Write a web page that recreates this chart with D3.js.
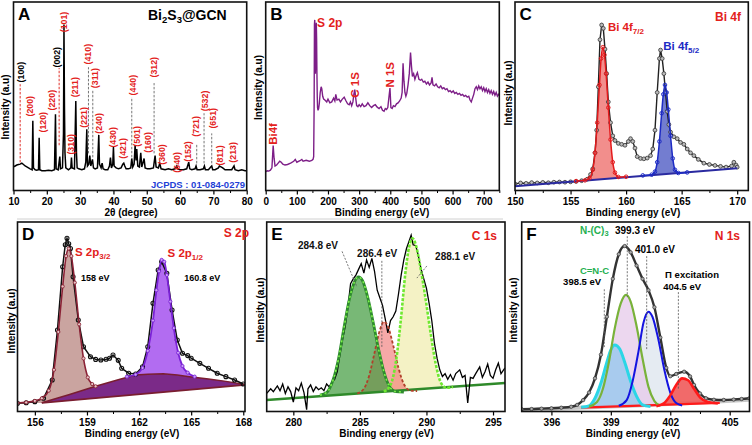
<!DOCTYPE html>
<html><head><meta charset="utf-8">
<script src="https://cdn.jsdelivr.net/npm/d3@7"></script>
<style>body{margin:0;background:#fff}</style>
</head><body>
<script>
// ---------------- DATA ----------------
// Panel A : XRD pattern [2theta, intensity]
const xrdData = [[10,12.5],[10.5,13],[11,13.5],[11.5,13.8],[12,14],[12.5,14.5],[13,13.8],[13.5,13],[14,12.5],[14.5,12],[15,11.5],[15.6,11],[15.8,37],[16.0,12],[16.5,11],[17,10.8],[17.5,11],[17.7,28],[17.9,11],[18.5,10.5],[19.5,10.5],[20.5,10.7],[21.5,10.5],[22.3,11],[22.6,40.5],[22.8,11.5],[23.4,11],[23.9,18],[24.1,11.5],[24.7,12],[25.0,30],[25.15,88],[25.3,44],[25.45,20],[25.7,12],[26.5,11],[27.2,12],[27.4,17.5],[27.6,12],[28.3,11.5],[28.7,47.5],[28.9,20],[29.1,12],[29.6,11.5],[30.5,11],[31.3,11.5],[31.7,15],[32.0,32.5],[32.2,13],[32.6,14],[32.9,18.5],[33.2,13],[33.7,16.5],[34.0,12],[34.5,11.5],[35.2,12],[35.6,29.5],[35.8,14],[36.3,12],[36.6,14.5],[36.9,11.5],[37.5,11],[38.3,11],[38.8,13],[39.1,17.5],[39.4,12],[39.8,14],[40.0,23],[40.2,13],[40.8,12],[41.5,11.5],[42.3,12],[42.8,14],[43.1,14.5],[43.4,13],[43.8,11.5],[44.5,11.5],[45.2,12],[45.5,17],[45.8,12.5],[46.2,14],[46.5,24],[46.8,16],[47.0,22],[47.3,13],[47.8,12.5],[48.2,20],[48.5,12.5],[48.9,15],[49.2,17],[49.5,12],[50.2,11.5],[51,11.5],[52,12],[52.5,18.5],[52.8,12.5],[53.5,12],[53.9,14.5],[54.3,11.5],[55.5,11],[56.5,11.5],[57.5,11],[58.5,11.5],[59,13],[59.3,11.5],[60,11],[61,11],[62,11.5],[62.6,15],[62.9,11.5],[63.5,11],[64.5,11.5],[64.8,13],[65.1,11],[66,11],[67,11.5],[67.3,13],[67.6,11],[68.5,11],[69.2,12.5],[69.5,13],[69.8,11],[70.5,11],[71.5,12],[71.8,13],[72.3,12.5],[72.8,12],[73.5,11],[74.5,11],[75.5,11],[76.2,13],[76.5,11],[77.5,10.5],[78.5,11],[79.5,10.5],[80,10.5]];
const hklNames = ['(100)','(200)','(120)','(220)','(002)','(101)','(310)','(211)','(221)','(410)','(311)','(240)','(430)','(421)','(440)','(501)','(160)','(312)','(360)','(640)','(152)','(721)','(532)','(651)','(811)','(213)'];
const hklTheta = [12.2,15.0,18.8,21.5,23.0,25.2,27.2,28.5,31.2,32.5,34.5,35.8,40.0,42.8,45.8,47.0,50.3,52.2,54.5,59.0,62.5,64.7,67.6,70.0,71.9,76.0];
const hklLevel = [62.8,44.7,36.2,47.9,70.7,89.4,24.5,54.8,38.8,72.3,59.6,35.6,28.2,22.3,55.9,28.7,25.5,65.4,19.1,14.9,20.7,34.0,47.5,38.3,18.6,20.2];
const hklGCN = ['(100)','(002)'];
const dropTheta = [12.0,23.7,32.5,33.8,45.5,52.2,65.0,67.2,69.5];
const dropLow   = [14.9,24,19.7,17.6,17.6,19.7,14.4,14.4,14.4];
const dropHigh  = [56.4,65,65.4,53,49.5,57,25,41,30.3];

// Panel B : XPS survey [eV, intensity]
const surveyData = [[0,10],[5,10.5],[10,10.3],[15,10.8],[20,12],[24,23.8],[27,17],[30,13],[35,13.5],[40,14.5],[45,15.5],[50,15],[55,14],[62,13.5],[70,13.8],[80,14.5],[90,15.5],[95,16.5],[100,15],[110,15.8],[116,16.5],[120,15.5],[130,16],[140,15.5],[148,16],[152,16.5],[154,18],[155.5,45],[156.5,88],[157.5,90.5],[158.5,72],[159.5,62],[160.5,68],[161.5,86],[162.5,89],[163.5,80],[164.5,62],[165.5,50],[166.5,44],[168,42.5],[170,43.5],[172,46],[175,52],[178,55],[180,54],[183,50],[186,48.5],[190,48],[196,47],[200,48.5],[206,46.5],[212,47],[218,49],[222,47.5],[225,51],[229,48],[235,48.5],[240,47],[246,48.5],[252,49.5],[258,47.5],[263,46],[268,45.5],[272,47],[276,45],[280,47],[283,51],[286,53.5],[289,49],[292,45],[296,44.5],[300,45.5],[305,44.5],[310,46],[316,44.5],[322,45],[328,46.5],[334,45],[340,44],[346,45],[352,45.5],[358,44.2],[364,43.5],[370,44.5],[375,42.5],[380,42],[384,43.5],[388,43],[392,44],[396,50],[399,54.3],[402,44],[406,43.5],[410,45],[415,44.5],[420,46],[425,46.5],[430,47.5],[435,49],[438,52],[441,67.5],[444,58],[447,52],[450,50],[453,51.5],[457,56],[461,62],[465,73.2],[468,66],[471,60.5],[475,62],[479,59],[483,61],[487,62.5],[492,59],[497,58.5],[501,59],[506,57.5],[511,58],[516,56.5],[521,57.5],[526,56],[531,57],[534,60],[537,56],[542,55.5],[547,56.5],[552,55],[557,54.5],[562,55.5],[567,54],[572,54.5],[577,53.5],[582,54],[587,52.5],[592,53],[597,52],[602,52.8],[607,51.5],[612,52],[617,51],[622,51.5],[627,50.5],[632,51],[637,50],[642,50.5],[647,49.5],[652,50],[656,48],[660,47],[664,49],[668,51],[672,54],[676,55],[680,53.5],[684,55.5],[688,54],[692,55],[696,53],[700,54.5],[704,52.5],[708,54],[712,52],[716,53.5],[720,51.5],[724,53],[728,51],[732,52.5],[736,50.5],[740,52],[744,50],[748,51],[750,50.5]];
const surveyLabels = ['Bi4f','S 2p','C 1S','N 1S'];
const surveyLabelX = [24,165,287,399];
const surveyLabelY = [30,86.8,56,61.4];

// Panel C : Bi 4f
const bi4fData = [[150,3.5],[150.5,4],[151,3.8],[151.5,4.2],[152,4.0],[152.5,4.3],[153,4.1],[153.5,4.4],[154,4.5],[154.5,4.4],[155,4.6],[155.5,4.8],[156,5.2],[156.5,6],[156.8,8.5],[157.0,11.5],[157.2,20],[157.35,32],[157.5,55],[157.65,80],[157.8,87.8],[157.95,86],[158.1,75],[158.25,62],[158.4,47],[158.6,36],[158.8,29],[159.0,26.5],[159.3,25],[159.6,24.5],[159.9,24],[160.2,26],[160.4,27.5],[160.6,26],[160.8,22.5],[161.0,18],[161.3,17],[161.6,16.8],[161.9,17.2],[162.2,18.5],[162.4,22],[162.6,32],[162.8,52],[163.0,70],[163.1,74.5],[163.25,70],[163.4,62],[163.55,52],[163.7,42],[163.85,35],[164.0,31],[164.3,28.5],[164.6,27.5],[164.9,25.5],[165.2,24.5],[165.5,22],[165.8,20],[166.1,18.5],[166.5,16.5],[167,14.5],[167.5,13.8],[168,13.3],[168.5,12.8],[169,12.4],[169.5,13],[169.7,15],[169.9,13.5],[170,12.4]];
const bi4fBase = [[150,2.3],[170,11.8]];
const bi4f72Fit = [[155.5,5.0],[156.3,5.4],[156.7,6.5],[157.0,11],[157.2,20],[157.4,36],[157.6,56],[157.75,70],[157.9,76],[158.05,72],[158.2,62],[158.4,44],[158.6,27],[158.8,15],[159.0,9.5],[159.3,7.2],[160,7.3]];
const bi4f52Fit = [[161.5,8.0],[162.3,8.4],[162.6,10],[162.8,15],[163.0,26],[163.2,41],[163.35,51],[163.5,56],[163.65,52],[163.8,43],[164.0,29],[164.2,17],[164.4,11],[164.7,9.3],[165.5,9.6]];

// Panel D : S 2p
const s2pData = [[155,4.3],[155.5,4.6],[156,5.2],[156.5,7.0],[157,16.6],[157.3,43],[157.6,76.4],[157.75,88],[157.85,91.4],[157.95,88.5],[158.05,86],[158.2,71.1],[158.5,48.3],[158.8,34.2],[159.2,28.9],[159.5,27.5],[159.8,27.2],[160.1,27.6],[160.3,28.1],[160.5,29.8],[160.8,27],[161.0,22.8],[161.4,20.2],[161.8,19.8],[162.2,23.6],[162.5,34.2],[162.8,57.1],[163.1,74.7],[163.3,79],[163.6,72.9],[163.9,53.6],[164.2,37.7],[164.5,30.7],[164.8,29.5],[165,28.1],[165.5,25.4],[166,22.8],[166.5,20.2],[167,18.4],[167.5,16.6],[168,14.5]];
const s2pBase = [[156.4,4.5],[168.1,14.0]];
const s2pBg = [[156.4,4.6],[158,9],[159.5,13.3],[160.8,16.8],[161.8,19.3],[162.5,19.7],[163.4,19.9],[164.2,19.2],[164.9,18.4],[166,17.2],[167,15.9],[168.1,14.2]];
const s2p32Fit = [[155,4.5],[155.5,4.8],[156,5.6],[156.4,7],[156.8,11],[157.1,22],[157.35,42],[157.6,66],[157.8,82],[157.95,86],[158.1,82],[158.3,68],[158.55,46],[158.8,28],[159.05,18],[159.3,14.5],[159.5,13.3]];
const s2p12Fit = [[161.3,18.4],[161.8,19.5],[162.2,23],[162.5,32],[162.8,48],[163.0,64],[163.15,74],[163.3,80],[163.45,79],[163.6,72],[163.8,58],[164.0,44],[164.25,31],[164.5,24],[164.8,20.5],[165.2,18.4]];

// Panel E : C 1s
const c1sData = [[278,9.6],[278.3,12],[278.5,10.5],[278.8,13.5],[279,11],[279.2,14.5],[279.4,9.5],[279.6,13],[279.8,10.5],[280,5],[280.2,12.5],[280.4,11],[280.6,15],[280.8,10],[281,1],[281.1,12],[281.3,14],[281.5,10.5],[281.7,13],[281.9,11.5],[282.1,12.5],[282.3,11],[282.5,14.5],[282.7,13],[282.9,15.5],[283.1,17],[283.3,21],[283.5,30],[283.7,38],[283.9,45],[284.1,55],[284.3,67.5],[284.5,70],[284.7,72],[284.9,75],[285.1,78],[285.3,73],[285.5,80],[285.7,76],[285.9,80.8],[286.1,74],[286.3,64],[286.5,60],[286.7,56],[286.9,49],[287.1,41.5],[287.3,48],[287.5,50],[287.7,53],[287.9,62],[288.1,72],[288.3,80],[288.5,86],[288.7,90],[288.85,93],[289,88],[289.2,87.5],[289.4,82],[289.6,75],[289.8,70],[290,65],[290.2,57],[290.4,48],[290.6,36],[290.8,28],[291,22],[291.2,18.5],[291.4,20],[291.6,17],[291.8,19.5],[292,16.5],[292.2,20],[292.5,22],[292.7,18],[292.9,19],[293.1,4.5],[293.3,18],[293.5,17.5],[293.7,20],[294,23.5],[294.2,18],[294.4,21],[294.6,25],[294.8,19],[295,17.5],[295.2,22],[295.4,25.5],[295.6,20],[295.9,23]];
const c1sBase = [[278,6.1],[295.9,15.0]];
const c1sPeakCC = [[282.0,8.7],[282.5,10],[283.0,17],[283.4,28],[283.8,44],[284.2,59],[284.6,68.5],[284.9,71],[285.2,69],[285.6,60],[286.0,47],[286.4,33],[286.8,21],[287.2,13.5],[287.7,10.5],[288.3,10.3]];
const c1sPeakCN = [[284.8,9.5],[285.3,12],[285.7,19],[286.1,31],[286.5,43],[286.8,47.4],[287.1,45],[287.5,35],[287.9,23],[288.3,14.5],[288.8,11],[289.3,10.8]];
const c1sPeakNCN = [[286.8,10.5],[287.3,14],[287.7,26],[288.1,50],[288.4,72],[288.7,87],[288.95,91.4],[289.2,88],[289.5,78],[289.9,61],[290.3,42],[290.7,25],[291.1,15],[291.5,12.5],[292,13]];
const c1sLabels = ['284.8 eV','286.4 eV','288.1 eV'];
const c1sLabelX = [280.35,284.79,290.65];
const c1sLabelY = [85.8,81.5,79.9];
const c1sLeaders = [[283.66,84.5,284.78,65.7],[286.65,79.5,286.65,34],[290.03,76.8,289.28,70.4]];

// Panel F : N 1s
const n1sData = [[394.5,1.2],[395,1.3],[395.5,1.5],[396,1.7],[396.5,2],[397,2.5],[397.3,3.5],[397.6,6],[397.9,10],[398.2,17.5],[398.5,30],[398.8,50],[399.1,70],[399.4,83],[399.7,87.3],[400.0,84],[400.3,77],[400.6,70],[400.9,64],[401.2,55],[401.5,39],[401.8,23],[402.0,18.6],[402.3,19.8],[402.7,21],[403.0,18.5],[403.2,14],[403.5,9.5],[403.8,7],[404.2,6.2],[404.7,6.1],[405.2,6.3],[405.6,6.6],[406,7]];
const n1sGray = [[394.5,0.6],[397,1.8],[400,3],[403,4.5],[406,6.2]];
const n1sBase = [[397.5,2.0],[404.5,4.6]];
const n1sCNC = [[397.5,2.2],[397.9,3],[398.2,7],[398.5,15],[398.8,26],[399.0,32.5],[399.2,35.1],[399.45,33],[399.7,26],[400.0,16],[400.3,8],[400.6,3.5],[401,2.6]];
const n1sNC3 = [[397.9,2.6],[398.3,5],[398.6,12],[398.9,26],[399.2,44],[399.5,57],[399.77,61.5],[400.0,58],[400.3,45],[400.6,28],[400.9,13],[401.2,5.5],[401.5,3]];
const n1sNH = [[399.4,3],[399.8,6],[400.1,16],[400.4,32],[400.65,47],[400.9,52.7],[401.1,50],[401.4,38],[401.7,22],[402.0,10],[402.3,4.5],[402.6,3.2]];
const n1sPi = [[401.3,2.8],[401.7,4.5],[402.0,8.5],[402.3,14],[402.6,17.5],[402.9,16.5],[403.2,12],[403.5,7.5],[403.9,5],[404.4,4.3]];
const n1sLeaders = [[398.67,64.5,398.67,34],[399.83,92.5,399.83,60.4],[400.81,82,400.81,32.5],[402.41,63,402.41,11.3]];

// ---------------- DRAWING ----------------
const FONT = '"Liberation Sans", Arial, Helvetica, sans-serif';
const svg = d3.select('body').append('svg').attr('width',752).attr('height',445)
  .attr('font-family',FONT).attr('font-weight','bold');
const defs = svg.append('defs');

function rich(t, parts, subSize, shift) {
  let down = false;
  parts.forEach(p => {
    const sp = t.append('tspan');
    if (typeof p === 'string') { sp.text(p); if (down) { sp.attr('dy', -shift); down = false; } }
    else { sp.text(p.sub).attr('font-size', subSize).attr('dy', shift); down = true; }
  });
  return t;
}

function panel(c) {
  const x = d3.scaleLinear().domain(c.domain).range([c.l, c.r]);
  const y = d3.scaleLinear().domain([0,100]).range([c.b, c.t]);
  const g = svg.append('g');
  defs.append('clipPath').attr('id','cp'+c.id).append('rect')
    .attr('x',c.l).attr('y',c.t).attr('width',c.r-c.l).attr('height',c.b-c.t);
  const plot = g.append('g').attr('clip-path',`url(#cp${c.id})`);
  const ax = g.append('g').attr('transform',`translate(0,${c.b})`)
    .call(d3.axisBottom(x).tickValues(c.ticks).tickSize(4).tickPadding(3).tickFormat(d3.format('d')));
  ax.select('.domain').remove();
  ax.selectAll('text').attr('font-size',10).attr('font-weight','bold').attr('font-family',FONT).attr('fill','#000');
  ax.selectAll('line').attr('stroke','#000').attr('stroke-width',1.2);
  const mx = g.append('g').attr('transform',`translate(0,${c.b})`)
    .call(d3.axisBottom(x).tickValues(c.minor).tickSize(2.5).tickFormat(''));
  mx.select('.domain').remove();
  mx.selectAll('line').attr('stroke','#000').attr('stroke-width',1);
  g.append('rect').attr('x',c.l).attr('y',c.t).attr('width',c.r-c.l).attr('height',c.b-c.t)
    .attr('fill','none').attr('stroke','#111').attr('stroke-width',1.6);
  g.append('text').attr('x',c.tx).attr('y',c.b+25.6).attr('text-anchor','middle').attr('font-size',10).text(c.xTitle);
  g.append('text').attr('transform',`translate(${c.ytx},${c.yty}) rotate(-90)`).attr('text-anchor','middle')
    .attr('dominant-baseline','central').attr('font-size',10).text('Intensity (a.u)');
  g.append('text').attr('x',c.l+4.5).attr('y',c.t+17.5).attr('font-size',17).text(c.id);
  return {g, plot, x, y};
}

const line = (x,y,curve) => d3.line().x(d=>x(d[0])).y(d=>y(d[1])).curve(curve||d3.curveLinear);
function dots(sel, data, x, y, r, fill, stroke, sw) {
  sel.append('g').selectAll('circle').data(data).join('circle')
    .attr('cx',d=>x(d[0])).attr('cy',d=>y(d[1])).attr('r',r)
    .attr('fill',fill).attr('stroke',stroke).attr('stroke-width',sw||0.8);
}

// ===== Panel A =====
{
  const P = panel({id:'A',domain:[10,80],l:13.5,r:246.7,t:2,b:190.5,ticks:d3.range(10,81,10),minor:d3.range(15,80,10),
    xTitle:'2θ (degree)',tx:131,ytx:5.5,yty:107});
  const {plot,x,y,g} = P;
  plot.append('path').datum(xrdData).attr('d',line(x,y)).attr('fill','none').attr('stroke','#000').attr('stroke-width',1.5);
  dropTheta.forEach((t,i)=>{
    plot.append('line').attr('x1',x(t)).attr('x2',x(t)).attr('y1',y(dropLow[i])).attr('y2',y(dropHigh[i]))
      .attr('stroke', i<2 ? '#e0302a' : '#777').attr('stroke-width',1).attr('stroke-dasharray','2.5,1.5');
  });
  hklNames.forEach((n,i)=>{
    g.append('text').attr('transform',`translate(${x(hklTheta[i])},${y(hklLevel[i])}) rotate(-90)`)
      .attr('text-anchor','middle').attr('dominant-baseline','central').attr('font-size',8.8)
      .attr('fill', hklGCN.includes(n) ? '#000' : '#e3211c').text(n);
  });
  rich(g.append('text').attr('x',148).attr('y',20).attr('font-size',14),
    ['Bi',{sub:'2'},'S',{sub:'3'},'@GCN'],9.5,3);
  g.append('text').attr('x',245).attr('y',187.5).attr('text-anchor','end').attr('font-size',9.5)
    .attr('fill','#1f3fd6').text('JCPDS : 01-084-0279');
}
// separator line
svg.append('line').attr('x1',17).attr('x2',503).attr('y1',219).attr('y2',219).attr('stroke','#d0d0d0').attr('stroke-width',1);

// ===== Panel B =====
{
  const {plot,x,y,g} = panel({id:'B',domain:[0,750],l:265.7,r:499.3,t:2,b:190.5,ticks:d3.range(0,701,100),minor:d3.range(50,751,100),
    xTitle:'Binding energy (eV)',tx:382,ytx:258.5,yty:87.5});
  plot.append('path').datum(surveyData).attr('d',line(x,y)).attr('fill','none').attr('stroke','#7d1e87').attr('stroke-width',1.4);
  surveyLabels.forEach((s,i)=>{
    if (s==='S 2p') g.append('text').attr('x',x(surveyLabelX[i])).attr('y',y(surveyLabelY[i])).attr('font-size',12).attr('fill','#e3211c').text(s);
    else g.append('text').attr('transform',`translate(${x(surveyLabelX[i])},${y(surveyLabelY[i])}) rotate(-90)`)
      .attr('text-anchor','middle').attr('dominant-baseline','central').attr('font-size',11.5).attr('fill','#e3211c').text(s);
  });
}

// ===== Panel C =====
{
  const {plot,x,y,g} = panel({id:'C',domain:[150,171],l:515,r:748.3,t:2,b:190.5,ticks:[150,155,160,165,170],minor:[152.5,157.5,162.5,167.5],
    xTitle:'Binding energy (eV)',tx:633,ytx:508,yty:93});
  const bs = d3.scaleLinear().domain(bi4fBase.map(d=>d[0])).range(bi4fBase.map(d=>d[1]));
  const ar = d3.area().x(d=>x(d[0])).y1(d=>y(d[1])).y0(d=>y(bs(d[0]))).curve(d3.curveMonotoneX);
  plot.append('path').datum(bi4f72Fit).attr('d',ar).attr('fill','#f07a78').attr('opacity',0.85);
  plot.append('path').datum(bi4f52Fit).attr('d',ar).attr('fill','#5a66c8').attr('opacity',0.85);
  plot.append('path').datum(bi4fData).attr('d',line(x,y)).attr('fill','none').attr('stroke','#222').attr('stroke-width',1.4);
  dots(plot,bi4fData,x,y,1.9,'#bbb','#333',0.8);
  plot.append('path').datum(bi4fBase).attr('d',line(x,y)).attr('stroke','#2a2aa0').attr('stroke-width',2);
  plot.append('path').datum(bi4f72Fit).attr('d',line(x,y,d3.curveMonotoneX)).attr('fill','none').attr('stroke','#e41a1c').attr('stroke-width',1.5);
  dots(plot,bi4f72Fit,x,y,1.8,'none','#e41a1c',1);
  plot.append('path').datum(bi4f52Fit).attr('d',line(x,y,d3.curveMonotoneX)).attr('fill','none').attr('stroke','#1d2bc4').attr('stroke-width',1.5);
  dots(plot,bi4f52Fit,x,y,1.8,'none','#1d2bc4',1);
  rich(g.append('text').attr('x',x(158.36)).attr('y',y(84.6)).attr('font-size',11.5).attr('fill','#e3211c'),['Bi 4f',{sub:'7/2'}],8,3);
  rich(g.append('text').attr('x',x(163.34)).attr('y',y(74.5)).attr('font-size',11.5).attr('fill','#1d2bc4'),['Bi 4f',{sub:'5/2'}],8,3);
  g.append('text').attr('x',741).attr('y',21).attr('text-anchor','end').attr('font-size',12).attr('fill','#e3211c').text('Bi 4f');
}

// ===== Panel D =====
{
  const {plot,x,y,g} = panel({id:'D',domain:[155,168.1],l:17.5,r:245,t:222,b:411.5,ticks:[156,159,162,165,168],minor:[157.5,160.5,163.5,166.5],
    xTitle:'Binding energy (eV)',tx:132,ytx:11.5,yty:321});
  const bs = d3.scaleLinear().domain(s2pBase.map(d=>d[0])).range(s2pBase.map(d=>d[1])).clamp(true);
  const bg = d3.scaleLinear().domain(s2pBg.map(d=>d[0])).range(s2pBg.map(d=>d[1])).clamp(true);
  plot.append('path').datum(s2p32Fit).attr('d',d3.area().x(d=>x(d[0])).y1(d=>y(d[1])).y0(d=>y(bs(d[0]))).curve(d3.curveMonotoneX))
    .attr('fill','#c49a96').attr('opacity',0.9);
  plot.append('path').datum(s2pBg).attr('d',d3.area().x(d=>x(d[0])).y1(d=>y(d[1])).y0(d=>y(bs(d[0]))))
    .attr('fill','#7b2a88');
  plot.append('path').datum(s2p12Fit).attr('d',d3.area().x(d=>x(d[0])).y1(d=>y(d[1])).y0(d=>y(bg(d[0]))).curve(d3.curveMonotoneX))
    .attr('fill','#a552ee').attr('opacity',0.85);
  plot.append('path').datum(s2pBase).attr('d',line(x,y)).attr('stroke','#7a1e30').attr('stroke-width',1.8);
  plot.append('path').datum(s2pBg).attr('d',line(x,y)).attr('fill','none').attr('stroke','#7a1e30').attr('stroke-width',1.5);
  plot.append('path').datum(s2pData).attr('d',line(x,y)).attr('fill','none').attr('stroke','#111').attr('stroke-width',1.5);
  dots(plot,s2pData,x,y,2,'none','#111',1.1);
  plot.append('path').datum(s2p32Fit).attr('d',line(x,y,d3.curveMonotoneX)).attr('fill','none').attr('stroke','#8b2236').attr('stroke-width',1.6);
  dots(plot,s2p32Fit,x,y,1.6,'#e6c6c6','#8b2236',0.9);
  plot.append('path').datum(s2p12Fit).attr('d',line(x,y,d3.curveMonotoneX)).attr('fill','none').attr('stroke','#7a22d6').attr('stroke-width',1.8);
  dots(plot,s2p12Fit,x,y,1.6,'#c9a0f5','#7a22d6',0.9);
  rich(g.append('text').attr('x',x(158.31)).attr('y',y(82.1)).attr('font-size',11.5).attr('fill','#e3211c'),['S 2p',{sub:'3/2'}],8,3);
  rich(g.append('text').attr('x',x(163.64)).attr('y',y(81.5)).attr('font-size',11.5).attr('fill','#e3211c'),['S 2p',{sub:'1/2'}],8,3);
  g.append('text').attr('x',x(158.66)).attr('y',y(68.9)).attr('font-size',9).text('158 eV');
  g.append('text').attr('x',x(164.6)).attr('y',y(68.9)).attr('font-size',9).text('160.8 eV');
  g.append('text').attr('x',249).attr('y',236.5).attr('text-anchor','end').attr('font-size',12).attr('fill','#e3211c').text('S 2p');
}

// ===== Panel E =====
{
  const {plot,x,y,g} = panel({id:'E',domain:[278,295.9],l:266.7,r:505,t:222,b:411.5,ticks:[280,285,290,295],minor:[282.5,287.5,292.5],
    xTitle:'Binding energy (eV)',tx:386.5,ytx:260,yty:310});
  const bs = d3.scaleLinear().domain(c1sBase.map(d=>d[0])).range(c1sBase.map(d=>d[1]));
  const ar = d3.area().x(d=>x(d[0])).y1(d=>y(d[1])).y0(d=>y(bs(d[0]))).curve(d3.curveMonotoneX);
  plot.append('path').datum(c1sPeakNCN).attr('d',ar).attr('fill','#f3f1c2').attr('opacity',0.95);
  plot.append('path').datum(c1sPeakCN).attr('d',ar).attr('fill','#f0706e').attr('opacity',0.6);
  plot.append('path').datum(c1sPeakCC).attr('d',ar).attr('fill','#3f9a3c').attr('opacity',0.7);
  plot.append('path').datum(c1sBase).attr('d',line(x,y)).attr('stroke','#2f8a2a').attr('stroke-width',2.5);
  plot.append('path').datum(c1sData).attr('d',line(x,y)).attr('fill','none').attr('stroke','#000').attr('stroke-width',1.3);
  plot.append('path').datum(c1sPeakCN).attr('d',line(x,y,d3.curveMonotoneX)).attr('fill','none').attr('stroke','#b0402a').attr('stroke-width',1.8).attr('stroke-dasharray','3,2');
  plot.append('path').datum(c1sPeakCC).attr('d',line(x,y,d3.curveMonotoneX)).attr('fill','none').attr('stroke','#2e8b2e').attr('stroke-width',2.8);
  plot.append('path').datum(c1sPeakCC).attr('d',line(x,y,d3.curveMonotoneX)).attr('fill','none').attr('stroke','#7cf04a').attr('stroke-width',1.6).attr('stroke-dasharray','2,3');
  plot.append('path').datum(c1sPeakNCN).attr('d',line(x,y,d3.curveMonotoneX)).attr('fill','none').attr('stroke','#6fe830').attr('stroke-width',2.6).attr('stroke-dasharray','3,1.5');
  c1sLeaders.forEach(l=>plot.append('line').attr('x1',x(l[0])).attr('y1',y(l[1])).attr('x2',x(l[2])).attr('y2',y(l[3]))
    .attr('stroke','#555').attr('stroke-width',0.8).attr('stroke-dasharray','2,1.5'));
  c1sLabels.forEach((s,i)=>g.append('text').attr('x',x(c1sLabelX[i])).attr('y',y(c1sLabelY[i])).attr('font-size',10).attr('fill','#111').text(s));
  g.append('text').attr('x',497).attr('y',240).attr('text-anchor','end').attr('font-size',12).attr('fill','#e3211c').text('C 1s');
}

// ===== Panel F =====
{
  const {plot,x,y,g} = panel({id:'F',domain:[394.5,406],l:521.7,r:749.5,t:222,b:411.5,ticks:[396,399,402,405],minor:[397.5,400.5,403.5],
    xTitle:'Binding energy (eV)',tx:633,ytx:513.5,yty:310});
  const bs = d3.scaleLinear().domain(n1sBase.map(d=>d[0])).range(n1sBase.map(d=>d[1]));
  const ar = d3.area().x(d=>x(d[0])).y1(d=>y(d[1])).y0(d=>y(bs(d[0]))).curve(d3.curveMonotoneX);
  plot.append('path').datum(n1sGray).attr('d',line(x,y)).attr('fill','none').attr('stroke','#c8c8c8').attr('stroke-width',4);
  plot.append('path').datum(n1sNH).attr('d',ar).attr('fill','#e2e9f1').attr('opacity',0.9);
  plot.append('path').datum(n1sNC3).attr('d',ar).attr('fill','#e6c9ea').attr('opacity',0.75);
  plot.append('path').datum(n1sCNC).attr('d',ar).attr('fill','#8cc6ee').attr('opacity',0.7);
  plot.append('path').datum(n1sPi).attr('d',ar).attr('fill','#ef5a5a').attr('opacity',0.9);
  plot.append('path').datum(n1sBase).attr('d',line(x,y)).attr('stroke','#ff1a1a').attr('stroke-width',2.2);
  plot.append('path').datum(n1sData).attr('d',line(x,y,d3.curveMonotoneX)).attr('fill','none').attr('stroke','#333').attr('stroke-width',2.4);
  dots(plot,n1sData,x,y,1.7,'#aaa','#333',0.7);
  plot.append('path').datum(n1sCNC).attr('d',line(x,y,d3.curveMonotoneX)).attr('fill','none').attr('stroke','#2bd6e6').attr('stroke-width',3);
  plot.append('path').datum(n1sNC3).attr('d',line(x,y,d3.curveMonotoneX)).attr('fill','none').attr('stroke','#79b23a').attr('stroke-width',2.2);
  plot.append('path').datum(n1sNH).attr('d',line(x,y,d3.curveMonotoneX)).attr('fill','none').attr('stroke','#1414e0').attr('stroke-width',2);
  plot.append('path').datum(n1sPi).attr('d',line(x,y,d3.curveMonotoneX)).attr('fill','none').attr('stroke','#ff1a1a').attr('stroke-width',2.6);
  n1sLeaders.forEach(l=>plot.append('line').attr('x1',x(l[0])).attr('y1',y(l[1])).attr('x2',x(l[2])).attr('y2',y(l[3]))
    .attr('stroke','#555').attr('stroke-width',0.8).attr('stroke-dasharray','2,1.5'));
  rich(g.append('text').attr('x',x(397.44)).attr('y',y(93.7)).attr('font-size',10).attr('fill','#25b050'),['N-(C)',{sub:'3'}],7.5,2.5);
  g.append('text').attr('x',x(399.21)).attr('y',y(93.7)).attr('font-size',10).text('399.3 eV');
  g.append('text').attr('x',x(400.22)).attr('y',y(83.6)).attr('font-size',10).text('401.0 eV');
  g.append('text').attr('x',x(397.44)).attr('y',y(72.5)).attr('font-size',9.5).attr('fill','#25b050').text('C=N-C');
  g.append('text').attr('x',x(396.59)).attr('y',y(66.5)).attr('font-size',9.5).text('398.5 eV');
  g.append('text').attr('x',x(401.74)).attr('y',y(70.3)).attr('font-size',9.5).text('Π excitation');
  g.append('text').attr('x',x(401.64)).attr('y',y(64.3)).attr('font-size',9.5).text('404.5 eV');
  g.append('text').attr('x',740).attr('y',240).attr('text-anchor','end').attr('font-size',12).attr('fill','#e3211c').text('N 1s');
}
</script>
</body></html>
